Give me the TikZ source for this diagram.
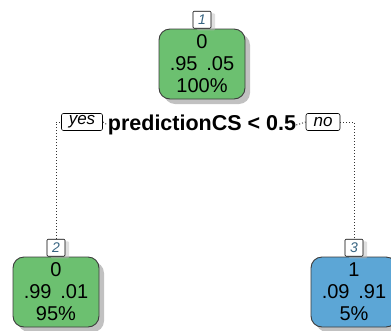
\documentclass[tikz,border=0pt]{standalone}
\usepackage{fontspec}
\setmainfont{Liberation Sans}
\usetikzlibrary{shadows,positioning}
\definecolor{rpgreen}{RGB}{108,192,112}
\definecolor{rpblue}{RGB}{92,166,214}
\definecolor{rpedge}{RGB}{60,60,60}

\begin{document}
\begin{tikzpicture}[x=1pt,y=-1pt,
  leaf/.style={draw=rpedge,line width=0.9pt,rounded corners=11pt,align=center,minimum width=86pt,minimum height=70pt,inner sep=0pt,
    font=\fontsize{20}{22}\selectfont,drop shadow={shadow xshift=5pt,shadow yshift=-5pt,fill=black!30,opacity=0.8}},
  nodenum/.style={draw=black,fill=white,line width=0.6pt,rounded corners=1pt,inner sep=0pt,minimum width=18pt,minimum height=17pt,
    font=\itshape\fontsize{14}{14}\selectfont,drop shadow={shadow xshift=4pt,shadow yshift=-2pt,fill=black!25}},
  tag/.style={draw=black,fill=white,line width=0.6pt,rounded corners=2pt,inner sep=0pt,minimum height=17pt,
    font=\itshape\fontsize{17}{17}\selectfont},
  wire/.style={dotted,line width=1pt,black!80}]
\useasboundingbox (0,0) rectangle (391,330);
% root
\node[leaf,fill=rpgreen] (root) at (202,64) {0\\.95\,\ .05\\100\%};
\node[nodenum,anchor=south] (n1) at (root.north) {\textcolor{rpblue!60!black}{1}};
% split
\node[font=\bfseries\fontsize{21.5}{20}\selectfont,inner sep=0pt] (split) at (202,125) {predictionCS < 0.5};
\node[tag,minimum width=41pt] (yes) at (82,122) {yes};
\node[tag,minimum width=34pt] (no) at (323,122) {no};
% leaves
\node[leaf,fill=rpgreen] (left) at (56,292) {0\\.99\,\ .01\\95\%};
\node[nodenum,anchor=south] (n2) at (left.north) {\textcolor{rpblue!60!black}{2}};
\node[leaf,fill=rpblue] (right) at (354,292) {1\\.09\,\ .91\\5\%};
\node[nodenum,anchor=south] (n3) at (right.north) {\textcolor{rpblue!60!black}{3}};
\coordinate (lc) at (n2.north |- yes.west);
\coordinate (rc) at (n3.north |- no.east);
% connectors
\draw[wire] (n2.north) -- (lc) -- (yes.west);
\draw[wire] (yes.east) -- (split.west);
\draw[wire] (split.east) -- (no.west);
\draw[wire] (no.east) -- (rc) -- (n3.north);
\end{tikzpicture}
\end{document}
